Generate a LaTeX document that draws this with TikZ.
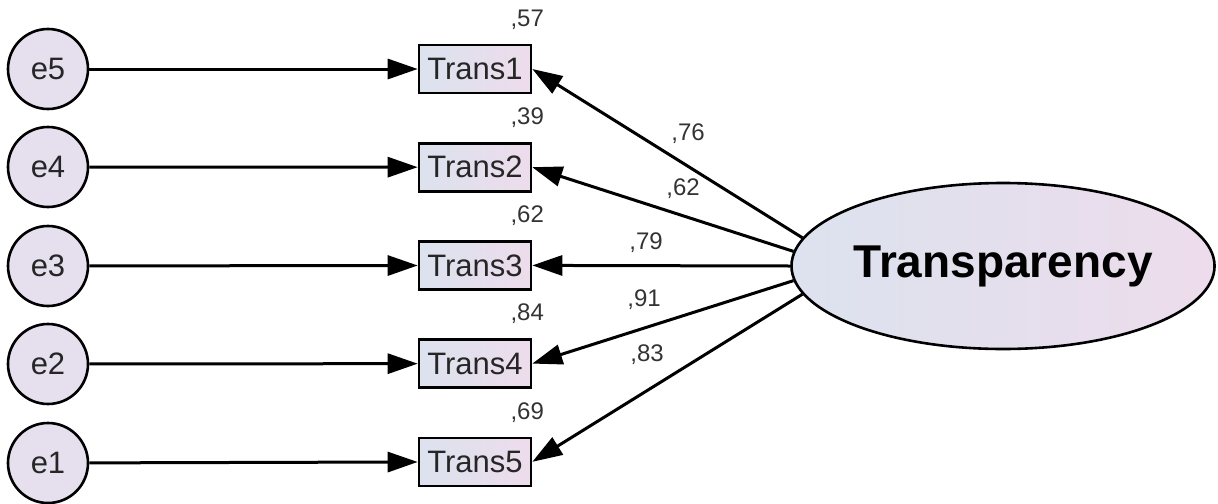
\documentclass[tikz,border=0pt]{standalone}
\usepackage{fontspec}
\setmainfont{Liberation Sans}
\usetikzlibrary{shapes.geometric,arrows.meta,positioning}
\definecolor{amosblue}{HTML}{DCE2EE}
\definecolor{amospink}{HTML}{EDDCEC}
\definecolor{amoslilac}{HTML}{E6E0EE}
\tikzstyle{latent} = [ellipse, minimum width=210pt, minimum height=83pt, inner sep=0pt, draw=black, line width=1.3pt, left color=amosblue, right color=amospink, font=\fontsize{23}{26}\selectfont\bfseries]
\tikzstyle{observed} = [rectangle, minimum width=56pt, minimum height=24pt, inner sep=0pt, draw=black, line width=1.3pt, left color=amosblue, right color=amospink, font=\fontsize{15.5}{18}\selectfont, text=black!85]
\tikzstyle{errvar} = [circle, minimum size=40pt, inner sep=0pt, draw=black, line width=1.3pt, fill=amoslilac, font=\fontsize{15.5}{18}\selectfont, text=black!85]
\tikzstyle{estimate} = [inner sep=0pt, font=\fontsize{12}{14}\selectfont, text=black!80]
\tikzstyle{arrow} = [line width=1.5pt, -{Triangle[length=15pt,width=10pt]}]

\begin{document}
\begin{tikzpicture}[x=0.5pt, y=-0.5pt, node distance=49.1pt]
\useasboundingbox (0,0) rectangle (1218,503);
% indicators
\node (t1)[observed] at (475,69) {Trans1};
\node (t2)[observed, below of=t1]{Trans2};
\node (t3)[observed, below of=t2]{Trans3};
\node (t4)[observed, below of=t3]{Trans4};
\node (t5)[observed, below of=t4]{Trans5};
% error terms
\node (e5)[errvar] at (48,69) {e5};
\node (e4)[errvar] at (48,167) {e4};
\node (e3)[errvar] at (48,266) {e3};
\node (e2)[errvar] at (48,364) {e2};
\node (e1)[errvar] at (48,463) {e1};
% factor
\node (trans)[latent] at (1003,266) {Transparency};
% squared multiple correlations
\node (r1)[estimate, above left=7pt and -6pt of t1.north east]{,57};
\node (r2)[estimate, above left=7pt and -6pt of t2.north east]{,39};
\node (r3)[estimate, above left=7pt and -6pt of t3.north east]{,62};
\node (r4)[estimate, above left=7pt and -6pt of t4.north east]{,84};
\node (r5)[estimate, above left=7pt and -6pt of t5.north east]{,69};
% loadings
\node (l1)[estimate] at (688,134) {,76};
\node (l2)[estimate] at (683,189) {,62};
\node (l3)[estimate] at (646,243) {,79};
\node (l4)[estimate] at (644,300) {,91};
\node (l5)[estimate] at (647,355) {,83};
\draw [arrow](e5) -- (t1);
\draw [arrow](e4) -- (t2);
\draw [arrow](e3) -- (t3);
\draw [arrow](e2) -- (t4);
\draw [arrow](e1) -- (t5);
\draw [arrow](trans.172) -- (t1.east);
\draw [arrow](trans.176) -- (t2.east);
\draw [arrow](trans.west) -- (t3.east);
\draw [arrow](trans.184) -- (t4.east);
\draw [arrow](trans.188) -- (t5.east);
\end{tikzpicture}
\end{document}
